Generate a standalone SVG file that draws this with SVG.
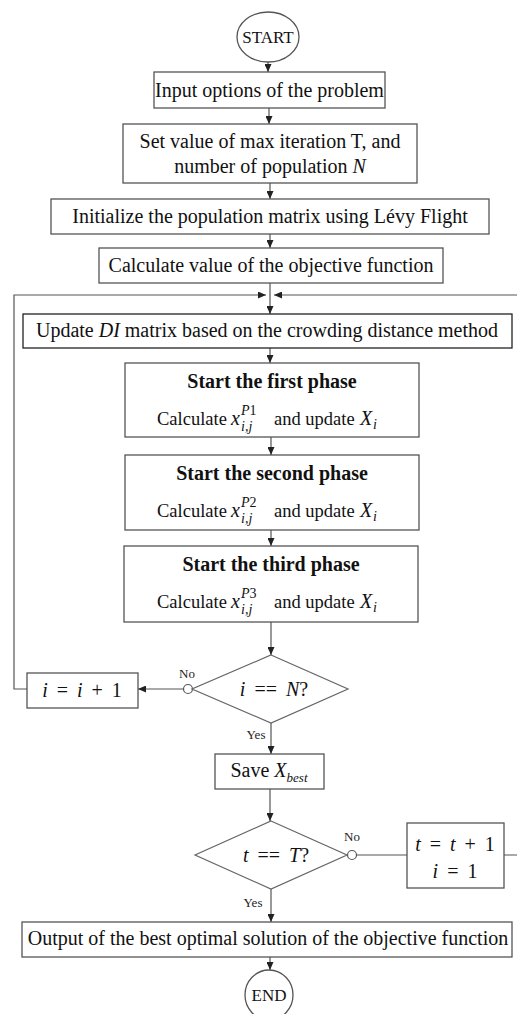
<svg xmlns="http://www.w3.org/2000/svg" width="517" height="1014" viewBox="0 0 517 1014">
<style>
.box{fill:#fff;stroke:#555;stroke-width:1.3}
.dia{fill:#fff;stroke:#666;stroke-width:1.2}
.ln{fill:none;stroke:#555;stroke-width:1.2}
.t{font-family:"Liberation Serif","Times New Roman",serif;font-size:20px;fill:#111;text-anchor:middle}
.ts{font-family:"Liberation Serif","Times New Roman",serif;font-size:18.5px;fill:#111}
.mx{font-family:"Liberation Serif","Times New Roman",serif;font-size:20px;fill:#111;font-style:italic}
.sc{font-family:"Liberation Serif","Times New Roman",serif;font-size:14px;fill:#111;font-style:italic}
.math{word-spacing:4px}
.m{font-style:italic}
.b{font-weight:bold}
.lab{font-family:"Liberation Serif","Times New Roman",serif;font-size:13px;fill:#222;text-anchor:middle}
.sm{font-size:13px}
</style>
<defs>
<marker id="ah" markerWidth="8" markerHeight="7" refX="8" refY="3.5" orient="auto" markerUnits="userSpaceOnUse">
<path d="M0,0 L8,3.5 L0,7 z" fill="#222"/>
</marker>
</defs>
<g id="connectors">
<line class="ln" x1="268" y1="62" x2="268" y2="72" marker-end="url(#ah)"/>
<line class="ln" x1="269" y1="108" x2="269" y2="124" marker-end="url(#ah)"/>
<line class="ln" x1="270" y1="183" x2="270" y2="199" marker-end="url(#ah)"/>
<line class="ln" x1="270" y1="234" x2="270" y2="248" marker-end="url(#ah)"/>
<line class="ln" x1="270" y1="283" x2="270" y2="314" marker-end="url(#ah)"/>
<line class="ln" x1="270" y1="348" x2="270" y2="363" marker-end="url(#ah)"/>
<line class="ln" x1="271" y1="437" x2="271" y2="455" marker-end="url(#ah)"/>
<line class="ln" x1="271" y1="530" x2="271" y2="546" marker-end="url(#ah)"/>
<line class="ln" x1="271" y1="622" x2="271" y2="655" marker-end="url(#ah)"/>
<line class="ln" x1="184" y1="689" x2="138" y2="689" marker-end="url(#ah)"/>
<path class="ln" d="M27,689 H14 V295 H266" marker-end="url(#ah)"/>
<line class="ln" x1="271" y1="723" x2="271" y2="754" marker-end="url(#ah)"/>
<line class="ln" x1="270" y1="789" x2="270" y2="821" marker-end="url(#ah)"/>
<line class="ln" x1="356" y1="855" x2="407" y2="855"/>
<path class="ln" d="M504,855 H524 V295 H274" marker-end="url(#ah)"/>
<line class="ln" x1="271" y1="889" x2="271" y2="922" marker-end="url(#ah)"/>
<line class="ln" x1="270" y1="957" x2="270" y2="970" marker-end="url(#ah)"/>
<circle cx="188" cy="689" r="4.5" fill="#fff" stroke="#555" stroke-width="1.2"/>
<circle cx="352" cy="855" r="4.5" fill="#fff" stroke="#555" stroke-width="1.2"/>
<text class="lab" x="187" y="678">No</text>
<text class="lab" x="256" y="739">Yes</text>
<text class="lab" x="352" y="841">No</text>
<text class="lab" x="253" y="907">Yes</text>
</g>
<g id="start">
<ellipse class="box" cx="268" cy="37" rx="31" ry="25"/>
<text class="t" x="268" y="43" style="font-size:17px">START</text>
</g>
<g id="input">
<rect class="box" x="154" y="72" width="231" height="36"/>
<text class="t" x="269.5" y="97">Input options of the problem</text>
</g>
<g id="setvalue">
<rect class="box" x="123" y="124" width="294" height="59"/>
<text class="t" x="270" y="148">Set value of max iteration T, and</text>
<text class="t" x="270" y="173">number of population <tspan class="m">N</tspan></text>
</g>
<g id="init">
<rect class="box" x="51" y="199" width="438" height="35"/>
<text class="t" x="270" y="223">Initialize the population matrix using Lévy Flight</text>
</g>
<g id="calcobj">
<rect class="box" x="99" y="248" width="344" height="35"/>
<text class="t" x="271" y="272">Calculate value of the objective function</text>
</g>
<g id="update">
<rect class="box" x="23" y="314" width="489" height="34" style="stroke:#222"/>
<text class="t" x="267" y="337">Update <tspan class="m">DI</tspan> matrix based on the crowding distance method</text>
</g>
<g id="phase1">
<rect class="box" x="125" y="363" width="294" height="74"/>
<text class="t b" x="272" y="388">Start the first phase</text>
<text class="ts" x="157" y="425">Calculate</text>
<text class="mx" x="231" y="425">x</text>
<text class="sc" x="241" y="415">P<tspan style="font-style:normal">1</tspan></text>
<text class="sc" x="241" y="431">i,j</text>
<text class="ts" x="274" y="425">and update</text>
<text class="mx" x="360" y="425">X</text>
<text class="sc" x="373" y="429">i</text>
</g>
<g id="phase2">
<rect class="box" x="125" y="455" width="294" height="75"/>
<text class="t b" x="272" y="480">Start the second phase</text>
<text class="ts" x="157" y="517">Calculate</text>
<text class="mx" x="231" y="517">x</text>
<text class="sc" x="241" y="507">P<tspan style="font-style:normal">2</tspan></text>
<text class="sc" x="241" y="523">i,j</text>
<text class="ts" x="274" y="517">and update</text>
<text class="mx" x="360" y="517">X</text>
<text class="sc" x="373" y="521">i</text>
</g>
<g id="phase3">
<rect class="box" x="124" y="546" width="294" height="76"/>
<text class="t b" x="271" y="571">Start the third phase</text>
<text class="ts" x="157" y="608">Calculate</text>
<text class="mx" x="231" y="608">x</text>
<text class="sc" x="241" y="598">P<tspan style="font-style:normal">3</tspan></text>
<text class="sc" x="241" y="614">i,j</text>
<text class="ts" x="274" y="608">and update</text>
<text class="mx" x="360" y="608">X</text>
<text class="sc" x="373" y="612">i</text>
</g>
<g id="checkN">
<polygon class="dia" points="271,655 348,689 271,723 192,689"/>
<text class="t math" x="274" y="696"><tspan class="m">i</tspan> == <tspan class="m">N</tspan>?</text>
</g>
<g id="incr">
<rect class="box" x="27" y="673" width="111" height="35"/>
<text class="t math" x="82" y="697"><tspan class="m">i</tspan> = <tspan class="m">i</tspan> + 1</text>
</g>
<g id="save">
<rect class="box" x="215" y="754" width="109" height="35"/>
<text class="t" x="269" y="777">Save <tspan class="m">X</tspan><tspan class="m sm" dy="5">best</tspan></text>
</g>
<g id="checkT">
<polygon class="dia" points="271,821 347,855 271,889 195,855"/>
<text class="t math" x="276" y="862"><tspan class="m">t</tspan> == <tspan class="m">T</tspan>?</text>
</g>
<g id="tincr">
<rect class="box" x="407" y="823" width="97" height="65"/>
<text class="t math" x="455" y="851"><tspan class="m">t</tspan> = <tspan class="m">t</tspan> + 1</text>
<text class="t math" x="455" y="878"><tspan class="m">i</tspan> = 1</text>
</g>
<g id="output">
<rect class="box" x="22" y="922" width="490" height="35"/>
<text class="t" x="268" y="945">Output of the best optimal solution of the objective function</text>
</g>
<g id="end">
<ellipse class="box" cx="269" cy="995" rx="24" ry="25"/>
<text class="t" x="269" y="1001" style="font-size:17px">END</text>
</g>
</svg>
